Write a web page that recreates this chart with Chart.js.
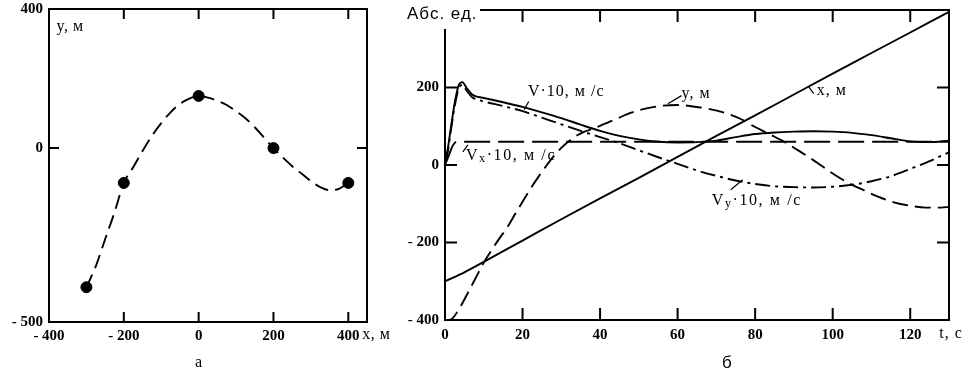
<!DOCTYPE html>
<html><head><meta charset="utf-8">
<script src="https://cdn.jsdelivr.net/npm/chart.js@4/dist/chart.umd.min.js"></script>
<style>
html,body{margin:0;padding:0;background:#fff;}
#wrap{position:relative;width:968px;height:378px;overflow:hidden;}
canvas{position:absolute;top:0;}
</style></head>
<body><div id="wrap">
<canvas id="ca" width="400" height="378" style="left:0"></canvas>
<canvas id="cb" width="568" height="378" style="left:400px"></canvas>
</div>
<script>
// ---------- Chart "а": trajectory y(x) ----------
const trajX = [-300,-275,-250,-225,-200,-175,-150,-125,-100,-75,-50,-25,0,25,50,75,100,125,150,175,200,225,250,275,300,325,350,375,400];
const trajY = [-400,-340,-262,-185,-100,-55,-8,35,72,103,127,142,150,145,136,124,106,86,60,30,0,-27,-52,-73,-95,-112,-121,-117,-100];
const nodeX = [-300,-200,0,200,400];
const nodeY = [-400,-100,150,0,-100];
const aTicksX = [-400,-200,0,200,400];
const aTicksY = [-500,0,400];

// ---------- Chart "б": time histories ----------
const tX = [0,5,10,20,30,40,50,60,70,80,90,100,110,120,130];
const xPos = [-300,-277,-250,-195,-140,-86,-33,21,75,128,182,236,289,342,395];
const tY = [0,1,2,4,6,8,10,12,14,16,18,20,22,24,26,28,30,32,34,36,38,40,44,48,52,56,60,64,68,72,76,80,84,88,92,96,100,104,108,112,116,120,124,128,130];
const yPos = [-400,-400,-395,-365,-328,-290,-252,-220,-190,-162,-128,-95,-62,-32,-4,22,44,62,76,86,93,101,118,135,146,153,155,151,145,135,120,98,78,57,32,6,-22,-46,-65,-83,-97,-105,-110,-110,-108];
const tV = [0,0.5,1.5,2.5,3.5,4.5,5.5,7,8,10,15,20,25,30,35,40,45,50,55,60,65,70,75,80,85,90,95,100,105,110,115,120,125,130];
const speed10 = [20,30,95,160,205,214,200,182,177,173,162,150,136,121,104,88,75,66,60,58,59,63,72,80,84,86,87,86,83,77,69,61,59,63];
const vy10 = [10,22,88,152,196,207,193,175,170,164,152,139,122,105,88,72,56,38,20,3,-14,-28,-40,-49,-55,-57,-58,-56,-51,-42,-29,-10,10,33];
const tVx = [0,1,2,3,130];
const vx10 = [0,25,50,60,60];
const bTicksX = [0,20,40,60,80,100,120];
const bTicksY = [-400,-200,0,200];

const SERIF = '"Liberation Serif","DejaVu Serif",serif';
const SANS = '"Liberation Sans","DejaVu Sans",sans-serif';
Chart.defaults.color = '#000';
Chart.defaults.font.family = SERIF;

function pts(xs, ys){ return xs.map((x,i)=>({x:x, y:ys[i]})); }

const decor = {
  id: 'decor',
  afterDraw(chart, args, o) {
    const ctx = chart.ctx, a = chart.chartArea, xs = chart.scales.x, ys = chart.scales.y;
    ctx.save();
    ctx.strokeStyle = '#000'; ctx.lineWidth = 2;
    ctx.strokeRect(a.left, a.top, a.right - a.left, a.bottom - a.top);
    const L = o.tickLen;
    ctx.beginPath();
    o.xMarks.forEach(v => { const p = xs.getPixelForValue(v);
      ctx.moveTo(p, a.bottom); ctx.lineTo(p, a.bottom - L);
      ctx.moveTo(p, a.top); ctx.lineTo(p, a.top + L); });
    o.yMarks.forEach(v => { const p = ys.getPixelForValue(v);
      ctx.moveTo(a.left, p); ctx.lineTo(a.left + L, p);
      ctx.moveTo(a.right, p); ctx.lineTo(a.right - L, p); });
    ctx.stroke();
    if (o.cover) { ctx.fillStyle = '#fff'; ctx.fillRect(o.cover[0], o.cover[1], o.cover[2], o.cover[3]); }
    ctx.lineWidth = 1.2;
    (o.pointers || []).forEach(p => { ctx.beginPath();
      ctx.moveTo(xs.getPixelForValue(p[0]), ys.getPixelForValue(p[1]));
      ctx.lineTo(xs.getPixelForValue(p[2]), ys.getPixelForValue(p[3])); ctx.stroke(); });
    ctx.fillStyle = '#000'; ctx.textBaseline = 'middle';
    (o.texts || []).forEach(t => {
      ctx.letterSpacing = t.ls || '0px';
      ctx.textAlign = t.align || 'left';
      const px = xs.getPixelForValue(t.x);
      const py = (t.below != null) ? a.bottom + t.below : ys.getPixelForValue(t.y);
      if (t.parts) {
        let cx = px;
        ctx.textAlign = 'left';
        t.parts.forEach(pp => { ctx.font = pp.font; ctx.fillText(pp.s, cx, py + (pp.dy || 0)); cx += ctx.measureText(pp.s).width; });
      } else { ctx.font = t.font; ctx.fillText(t.text, px, py); }
    });
    ctx.restore();
  }
};

function scaleOpts(min, max, tickVals, pos, size, pad) {
  return {
    type: 'linear', min: min, max: max, position: pos,
    grid: { display: false, drawTicks: false },
    border: { display: false },
    ticks: { font: { family: SERIF, size: 15, weight: 'bold' }, padding: pad, autoSkip: false, maxRotation: 0, color: '#000',
      callback: v => (v < 0 ? '- ' + Math.abs(v) : String(v)) },
    afterBuildTicks: s => { s.ticks = tickVals.map(v => ({ value: v })); },
    afterFit: s => {
      if (pos === 'bottom') s.height = size; else s.width = size;
      s.paddingTop = 0; s.paddingBottom = 0; s.paddingLeft = 0; s.paddingRight = 0;
    }
  };
}

const F16 = '16px ' + SERIF, F12 = '12px ' + SERIF;

new Chart(document.getElementById('ca'), {
  type: 'scatter',
  data: { datasets: [
    { data: pts(trajX, trajY), showLine: true, borderColor: '#000', borderWidth: 1.9, borderDash: [14, 7],
      pointRadius: 0, cubicInterpolationMode: 'monotone' },
    { data: pts(nodeX, nodeY), showLine: false, pointRadius: 5.5, pointBackgroundColor: '#000', pointBorderColor: '#000' }
  ]},
  options: {
    responsive: false, animation: false, devicePixelRatio: 1,
    layout: { padding: { left: 0, top: 9, right: 33, bottom: 0 } },
    plugins: { legend: { display: false }, tooltip: { enabled: false },
      decor: { tickLen: 10, xMarks: [-200, 0, 200, 400], yMarks: [0],
        texts: [
          { text: 'y, м', x: -380, y: 350, font: '16px ' + SERIF, ls: '0.5px' },
          { text: 'x, м', x: 437, below: 13, font: '16px ' + SERIF, ls: '0.5px' },
          { text: 'а', x: 0, below: 41, font: '16px ' + SERIF, align: 'center' }
        ] } },
    scales: { x: scaleOpts(-400, 450, aTicksX, 'bottom', 56, 5), y: scaleOpts(-500, 400, aTicksY, 'left', 49, 6) }
  },
  plugins: [decor]
});

new Chart(document.getElementById('cb'), {
  type: 'scatter',
  data: { datasets: [
    { label: 'x, м', data: pts(tX, xPos), showLine: true, borderColor: '#000', borderWidth: 1.9, pointRadius: 0, cubicInterpolationMode: 'monotone' },
    { label: 'y, м', data: pts(tY, yPos), showLine: true, borderColor: '#000', borderWidth: 1.9, borderDash: [16, 7], pointRadius: 0, cubicInterpolationMode: 'monotone' },
    { label: 'V·10, м/с', data: pts(tV, speed10), showLine: true, borderColor: '#000', borderWidth: 1.9, pointRadius: 0, cubicInterpolationMode: 'monotone' },
    { label: 'Vx·10, м/с', data: pts(tVx, vx10), showLine: true, borderColor: '#000', borderWidth: 1.9, borderDash: [26, 8], pointRadius: 0, cubicInterpolationMode: 'monotone' },
    { label: 'Vy·10, м/с', data: pts(tV, vy10), showLine: true, borderColor: '#000', borderWidth: 1.9, borderDash: [15, 5, 3, 5], pointRadius: 0, cubicInterpolationMode: 'monotone' }
  ]},
  options: {
    responsive: false, animation: false, devicePixelRatio: 1,
    layout: { padding: { left: 0, top: 10, right: 19, bottom: 0 } },
    plugins: { legend: { display: false }, tooltip: { enabled: false },
      decor: { tickLen: 12, xMarks: [20, 40, 60, 80, 100, 120], yMarks: [200, 0, -200],
        cover: [0, 0, 80, 29],
        pointers: [[20.4, 143, 21.6, 164], [57.5, 158, 61, 179], [93.8, 202, 95.1, 184], [4.6, 34, 5.9, 52], [73.7, -64, 76.8, -38]],
        texts: [
          { text: 'Абс. ед.', x: -9.8, y: 389, font: '17px ' + SANS, ls: '1px' },
          { text: 'V·10, м /с', x: 21.4, y: 190, font: F16, ls: '1px' },
          { text: 'y, м', x: 61, y: 184, font: F16, ls: '1px' },
          { text: 'x, м', x: 95.9, y: 192, font: F16, ls: '1px' },
          { x: 5.4, y: 24, ls: '1.6px', parts: [{ s: 'V', font: F16 }, { s: 'x', font: F12, dy: 3 }, { s: '·10, м /с', font: F16 }] },
          { x: 68.8, y: -92, ls: '1.6px', parts: [{ s: 'V', font: F16 }, { s: 'y', font: F12, dy: 3 }, { s: '·10, м /с', font: F16 }] },
          { text: 't, с', x: 127.5, below: 14, font: F16, ls: '1px' },
          { text: 'б', x: 72.7, below: 43, font: '17px ' + SANS, align: 'center' }
        ] } },
    scales: { x: scaleOpts(0, 130, bTicksX, 'bottom', 58, 6), y: scaleOpts(-400, 400, bTicksY, 'left', 45, 6) }
  },
  plugins: [decor]
});
</script>
</body></html>
